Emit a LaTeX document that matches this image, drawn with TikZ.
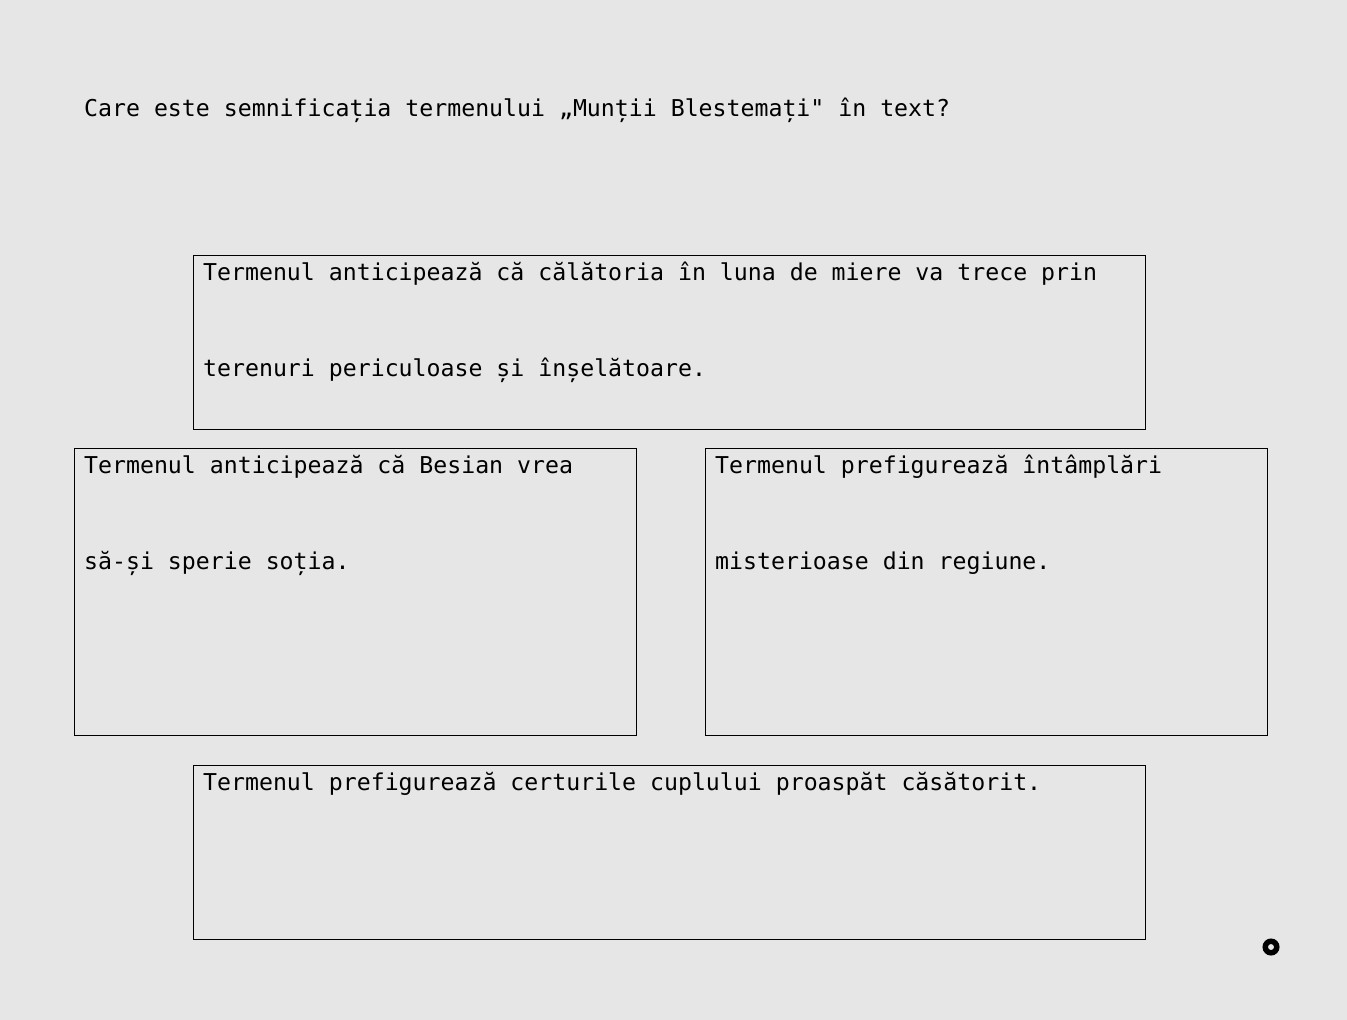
\documentclass[tikz,border=0pt]{standalone}
\usepackage{fontspec}
\newfontfamily\monofont{DejaVu Sans Mono}
\definecolor{pagegray}{HTML}{E6E6E6}
\begin{document}
\begin{tikzpicture}[x=1pt, y=-1pt,
   box_style/.style={draw=black, line width=0.8pt, inner sep=0pt, outer sep=0pt, anchor=north west},
   wide_style/.style={box_style, minimum width=952pt, minimum height=174pt},
   half_style/.style={box_style, minimum width=562pt, minimum height=287pt},
   text_style/.style={anchor=base west, inner sep=0pt, text=black, font=\monofont\fontsize{23.2}{28}\selectfont},
   mark_style/.style={draw=black, circle, line width=5.5pt, minimum size=11.5pt, inner sep=0pt}]

    \fill[pagegray] (0,0) rectangle (1347,1020);
    \useasboundingbox (0,0) rectangle (1347,1020);

    \node[text_style] (question) at (84,116) {Care este semnificația termenului „Munții Blestemați" în text?};

    \node[wide_style] (A) at (193,255) {};
    \node[half_style] (B) at (74,448) {};
    \node[half_style] (C) at (705,448) {};
    \node[wide_style] (D) at (193,765) {};

    \node[text_style] (A1) at (203,280) {Termenul anticipează că călătoria în luna de miere va trece prin};
    \node[text_style] (A2) at (203,376) {terenuri periculoase și înșelătoare.};
    \node[text_style] (B1) at (84,473) {Termenul anticipează că Besian vrea};
    \node[text_style] (B2) at (84,569) {să-și sperie soția.};
    \node[text_style] (C1) at (715,473) {Termenul prefigurează întâmplări};
    \node[text_style] (C2) at (715,569) {misterioase din regiune.};
    \node[text_style] (D1) at (203,790) {Termenul prefigurează certurile cuplului proaspăt căsătorit.};

    \node[mark_style] (mark) at (1271,947) {};
\end{tikzpicture}
\end{document}
